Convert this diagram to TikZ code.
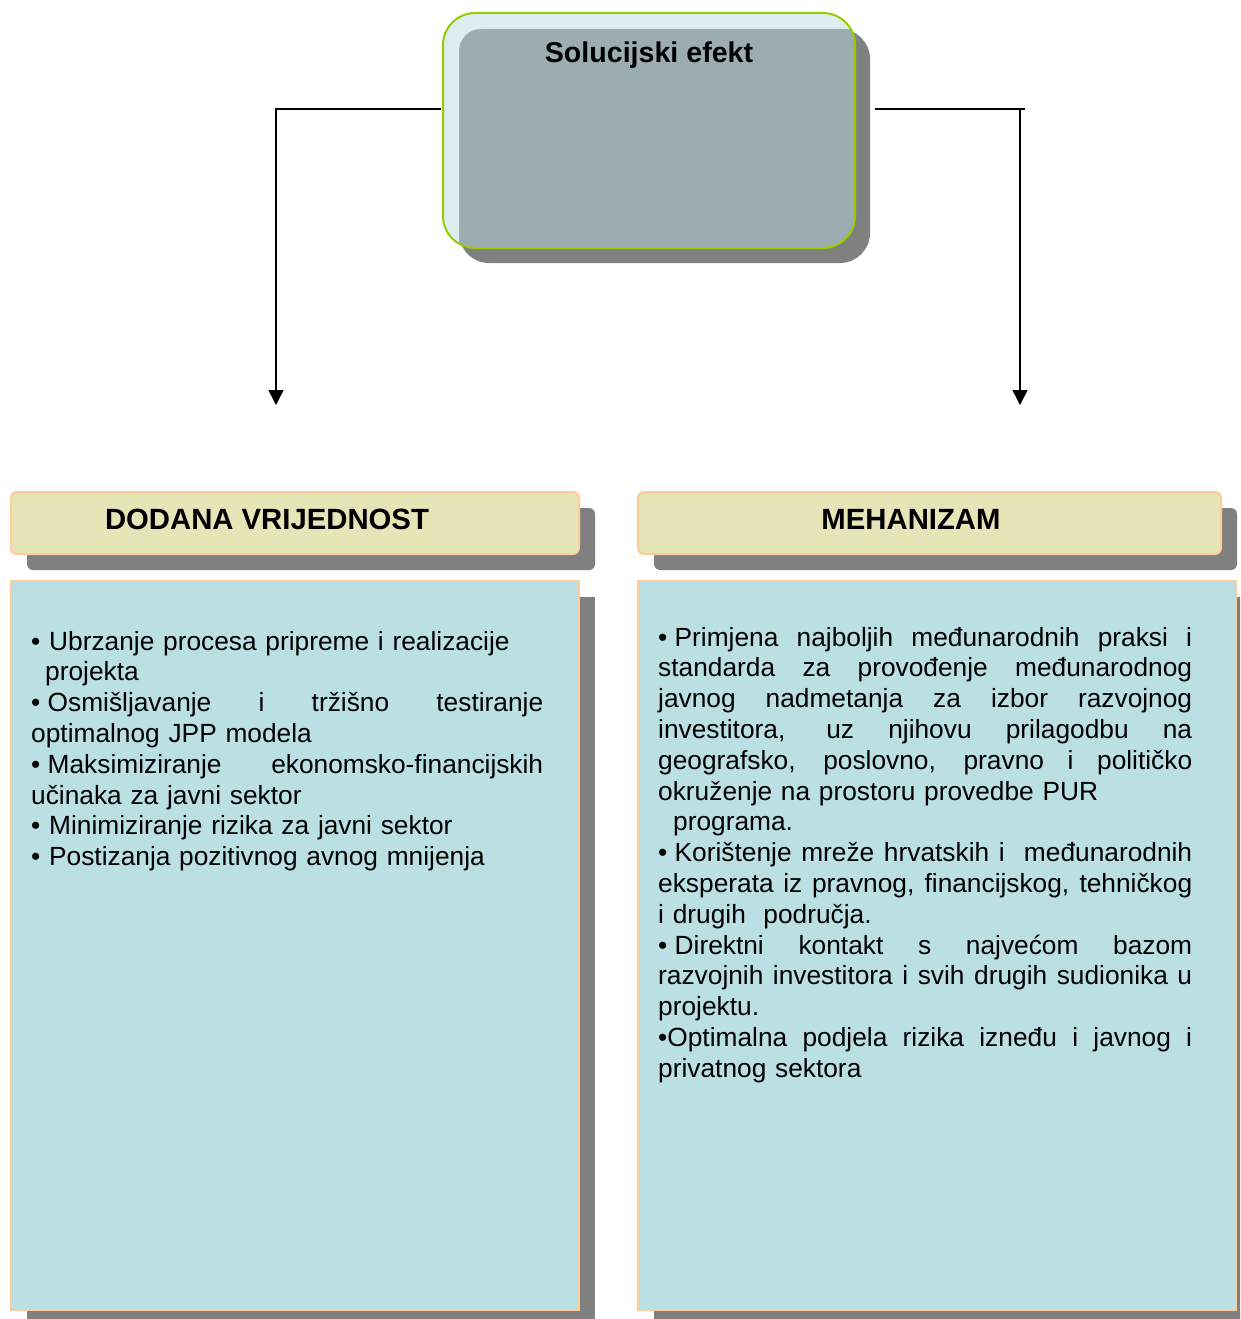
\documentclass[tikz,border=0pt]{standalone}
\usepackage{fontspec}
\setmainfont{Liberation Sans}
\usetikzlibrary{arrows.meta}
\definecolor{shadowgray}{HTML}{808080}
\definecolor{topfill}{HTML}{DDEEF1}
\definecolor{topgray}{HTML}{9BADB0}
\definecolor{limegreen}{HTML}{99CC00}
\definecolor{hdrfill}{HTML}{E6E5B8}
\definecolor{peach}{HTML}{FFCC99}
\definecolor{bodyfill}{HTML}{BAE0E3}
\newcommand{\jline}[1]{\makebox[\linewidth][s]{\spaceskip=0pt\xspaceskip=0pt\relax #1}}
\newcommand{\bul}{\mbox{•\ }}
\tikzset{
  conn/.style={line width=1.6pt, black},
  arr/.style={conn, -{Triangle[width=15pt,length=15pt]}},
  shadowbox/.style={fill=shadowgray},
  hdrbox/.style={draw=peach, line width=2pt, fill=hdrfill, rounded corners=6pt, inner sep=0pt, outer sep=0pt, anchor=north west},
  bodybox/.style={draw=peach, line width=2.5pt, fill=bodyfill, inner sep=0pt, outer sep=0pt, anchor=north west},
  hdrtext/.style={font=\fontsize{29.3pt}{34pt}\selectfont\bfseries, inner sep=0pt, anchor=base},
  bodytext/.style={font=\fontsize{26.3pt}{30.8pt}\selectfont, inner sep=0pt, anchor=base west},
}
\begin{document}
\begin{tikzpicture}[x=1pt,y=-1pt]
\useasboundingbox (0,0) rectangle (1240,1319);
\clip (0,0) rectangle (1240,1319);

% top box
\fill[shadowbox, rounded corners=30pt] (459,29) rectangle (870,263);
\fill[topfill, rounded corners=32pt] (443,13) rectangle (855,248);
\begin{scope}
  \clip[rounded corners=32pt] (443,13) rectangle (855,248);
  \fill[topgray, rounded corners=22pt] (459,29) rectangle (870,263);
\end{scope}
\node[draw=limegreen, line width=2pt, rounded corners=32pt, minimum width=412pt, minimum height=235pt, inner sep=0pt, outer sep=0pt] (top) at (649,130.5) {};
\node[font=\fontsize{28.6pt}{34pt}\selectfont\bfseries, inner sep=0pt, anchor=base] (ttl) at (649,63) {Solucijski efekt};

% connectors
\coordinate (lend) at (276,405);
\coordinate (rc) at (1025,109);
\coordinate (rend) at (1020,405);
\draw[arr] ([shift={(-2pt,21.5pt)}]top.west) -| (lend);
\draw[conn] ([shift={(20pt,21.5pt)}]top.east) -- (rc);
\draw[arr] (rc -| rend) -- (rend);

% header boxes
\fill[shadowbox, rounded corners=6pt] (27,508) rectangle (595,570);
\fill[shadowbox, rounded corners=6pt] (654,508) rectangle (1237,570);
\node[hdrbox, minimum width=568pt, minimum height=62pt] (hl) at (11,492) {};
\node[hdrbox, minimum width=583pt, minimum height=62pt] (hr) at (638,492) {};
\node[hdrtext] (hlt) at (267,529) {DODANA VRIJEDNOST};
\node[hdrtext] (hrt) at (911,529) {MEHANIZAM};

% body boxes
\fill[shadowbox] (27,597) rectangle (595,1330);
\fill[shadowbox] (654,597) rectangle (1252,1330);
\node[bodybox, minimum width=568pt, minimum height=729pt] (bl) at (11,581) {};
\node[bodybox, minimum width=598pt, minimum height=729pt] (br) at (638,581) {};

\node[bodytext, text width=512pt] (blt) at (31,650) {%
\bul Ubrzanje procesa pripreme i realizacije\\
\hspace*{14pt}projekta\\
\jline{\bul Osmišljavanje i tržišno testiranje}\\
optimalnog JPP modela\\
\jline{\bul Maksimiziranje ekonomsko-financijskih}\\
učinaka za javni sektor\\
\bul Minimiziranje rizika za javni sektor\\
\bul Postizanja pozitivnog avnog mnijenja};

\node[bodytext, text width=534pt] (brt) at (658,646) {%
\jline{\bul Primjena najboljih međunarodnih praksi i}\\
\jline{standarda za provođenje međunarodnog}\\
\jline{javnog nadmetanja za izbor razvojnog}\\
\jline{investitora, uz njihovu prilagodbu na}\\
\jline{geografsko, poslovno, pravno i političko}\\
okruženje na prostoru provedbe PUR\\
\hspace*{15pt}programa.\\
\jline{\bul Korištenje mreže hrvatskih i\ \ međunarodnih}\\
\jline{eksperata iz pravnog, financijskog, tehničkog}\\
i drugih\ \ područja.\\
\jline{\bul Direktni kontakt s najvećom bazom}\\
\jline{razvojnih investitora i svih drugih sudionika u}\\
projektu.\\
\jline{•Optimalna podjela rizika izneđu i javnog i}\\
privatnog sektora};
\end{tikzpicture}
\end{document}
